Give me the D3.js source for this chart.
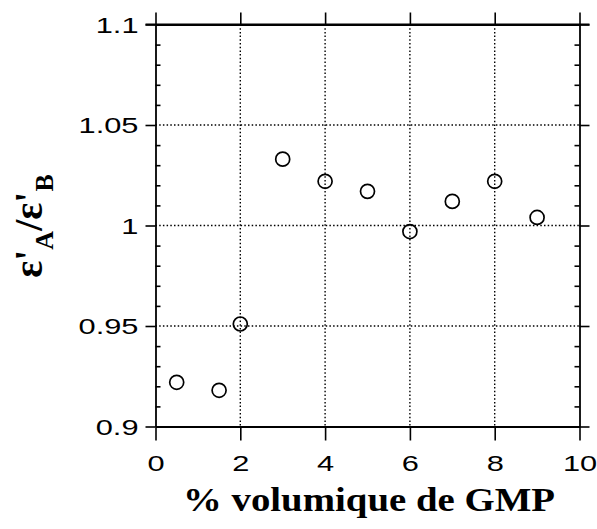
<!DOCTYPE html>
<html><head><meta charset="utf-8">
<script src="https://cdn.jsdelivr.net/npm/d3@7"></script>
<style>body{margin:0;background:#fff}svg{display:block}</style>
</head><body>
<svg id="c" width="597" height="529"></svg>
<script>
const xValues = [0.5, 1.5, 2, 3, 4, 5, 6, 7, 8, 9];
const yValues = [0.922, 0.918, 0.951, 1.033, 1.022, 1.017, 0.997, 1.012, 1.022, 1.004];
const xTicks = [0, 2, 4, 6, 8, 10];
const yTicks = [0.9, 0.95, 1, 1.05, 1.1];
const yTickLabels = ["0.9", "0.95", "1", "1.05", "1.1"];
const xLabel = "% volumique de GMP";

const svg = d3.select("#c");
const x = d3.scaleLinear().domain([0, 10]).range([155.5, 579.5]);
const y = d3.scaleLinear().domain([0.9, 1.1]).range([426.5, 24.5]);
const minorY = d3.range(0.9, 1.1001, 0.01).map(v => +v.toFixed(2))
  .filter(v => !yTicks.some(t => Math.abs(t - v) < 1e-6));

// grid
const grid = svg.append("g");
grid.selectAll("line.gx").data(xTicks.slice(1, -1)).join("line")
  .attr("x1", d => x(d)).attr("x2", d => x(d)).attr("y1", y(1.1)).attr("y2", y(0.9))
  .attr("stroke", "#000").attr("stroke-width", 1.4).attr("stroke-dasharray", "1.5,2.2");
grid.selectAll("line.gy").data(yTicks.slice(1, -1)).join("line")
  .attr("y1", d => y(d)).attr("y2", d => y(d)).attr("x1", x(0)).attr("x2", x(10))
  .attr("stroke", "#000").attr("stroke-width", 1.4).attr("stroke-dasharray", "1.5,2.2");

function styleAxis(sel) {
  sel.selectAll("path").attr("stroke", "#000").attr("stroke-width", 1.8);
  sel.selectAll("line").attr("stroke", "#000").attr("stroke-width", 1.6);
}
const tickFont = "'Liberation Sans', Arial, sans-serif";
const SX = 1.4;

// left axis major
const leftAxis = svg.append("g").attr("transform", `translate(${x(0)},0)`)
  .call(d3.axisLeft(y).tickValues(yTicks).tickSize(10).tickSizeOuter(0).tickFormat((d, i) => yTickLabels[i]));
styleAxis(leftAxis);
leftAxis.selectAll("text").attr("font-family", tickFont).attr("font-size", 22).attr("fill", "#000")
  .attr("x", 0).attr("dy", "0.36em").attr("text-anchor", "end")
  .attr("transform", `translate(-17,0) scale(${SX},1)`);
// left minor (inward)
svg.append("g").attr("transform", `translate(${x(0)},0)`)
  .call(d3.axisRight(y).tickValues(minorY).tickSize(5).tickSizeOuter(0).tickFormat(""))
  .call(s => { s.select("path").remove(); styleAxis(s); });

// right axis
const rightAxis = svg.append("g").attr("transform", `translate(${x(10)},0)`)
  .call(d3.axisRight(y).tickValues(yTicks).tickSize(10).tickSizeOuter(0).tickFormat(""));
styleAxis(rightAxis);
svg.append("g").attr("transform", `translate(${x(10)},0)`)
  .call(d3.axisLeft(y).tickValues(minorY).tickSize(5).tickSizeOuter(0).tickFormat(""))
  .call(s => { s.select("path").remove(); styleAxis(s); });

// bottom axis
const bottomAxis = svg.append("g").attr("transform", `translate(0,${y(0.9)})`)
  .call(d3.axisBottom(x).tickValues(xTicks).tickSize(14).tickSizeOuter(0).tickFormat(d3.format("d")));
styleAxis(bottomAxis);
bottomAxis.selectAll("text").attr("font-family", tickFont).attr("font-size", 22).attr("fill", "#000")
  .attr("x", 0).attr("y", 0).attr("dy", 0).attr("text-anchor", "middle")
  .attr("transform", `translate(0,44) scale(${SX},1)`);

// top axis
const topAxis = svg.append("g").attr("transform", `translate(0,${y(1.1)})`)
  .call(d3.axisTop(x).tickValues(xTicks).tickSize(12).tickSizeOuter(0).tickFormat(""));
styleAxis(topAxis);
svg.append("line").attr("x1", x(0) - 10).attr("x2", x(10) + 10).attr("y1", y(1.1)).attr("y2", y(1.1))
  .attr("stroke", "#000").attr("stroke-width", 2);

// points
svg.append("g").selectAll("circle").data(xValues).join("circle")
  .attr("cx", d => x(d)).attr("cy", (d, i) => y(yValues[i])).attr("r", 7)
  .attr("fill", "none").attr("stroke", "#000").attr("stroke-width", 1.7);

// x label
svg.append("text").attr("x", 369).attr("y", 511).attr("text-anchor", "middle")
  .attr("font-family", "'Liberation Serif', 'Times New Roman', serif").attr("font-weight", "bold")
  .attr("font-size", 33).attr("textLength", 372).attr("lengthAdjust", "spacingAndGlyphs")
  .text(xLabel);

// y label
const yl = svg.append("text").attr("transform", "translate(42,226) rotate(-90)")
  .attr("text-anchor", "middle")
  .attr("font-family", "'Liberation Serif', 'Times New Roman', serif").attr("font-weight", "bold")
  .attr("font-size", 40);
yl.append("tspan").text("ε'");
yl.append("tspan").attr("font-size", 26).attr("dy", 11).text("A");
yl.append("tspan").attr("dy", -11).text("/ε'");
yl.append("tspan").attr("font-size", 26).attr("dy", 11).text("B");
</script>
</body></html>
